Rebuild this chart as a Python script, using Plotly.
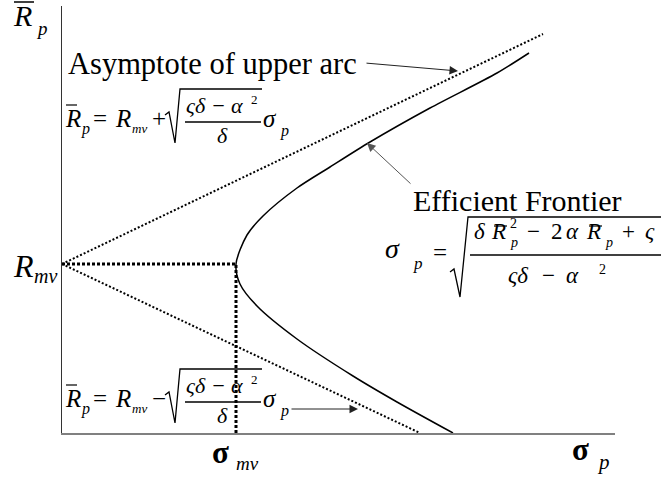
import plotly.graph_objects as go

# ---- diagram values (sigma_p on x, mean return R_p on y) ----
R_MV = 169
SIGMA_MV = 174

frontier_sigma = [391, 335, 291, 235, 195, 178, 174, 185, 201, 235, 268, 308, 368, 435, 467]
frontier_R = [0, 31, 57, 94, 127, 149, 169, 198, 217, 245, 266, 291, 325, 360, 380]

upper_asym_sigma = [0, 481]
upper_asym_R = [R_MV, 399]

lower_asym_sigma = [0, 358]
lower_asym_R = [R_MV, 0]

X_MAX = 553
Y_MAX = 427

# ---- canvas geometry ----
W, H = 661, 478
ML, MR, MT, MB = 62, 46, 6, 45
PW = W - ML - MR
PH = H - MT - MB

FONT = "'Liberation Serif', 'Times New Roman', Times, serif"


def px_x(x):
    return (x - ML) / PW


def px_y(y):
    return (H - MB - y) / PH


annotations = []
shapes = []


def label(text, x, base, size, italic=True, bold=False):
    s = text
    if italic:
        s = "<i>" + s + "</i>"
    if bold:
        s = "<b>" + s + "</b>"
    centre = base - 0.3375 * size
    annotations.append(dict(
        text=s, x=px_x(x), y=px_y(centre), xref="paper", yref="paper",
        xanchor="left", yanchor="middle", showarrow=False, borderpad=0,
        font=dict(family=FONT, size=size, color="black"),
    ))


def seg(x0, y0, x1, y1, width=1.3, color="black"):
    shapes.append(dict(type="line", xref="paper", yref="paper",
                       x0=px_x(x0), y0=px_y(y0), x1=px_x(x1), y1=px_y(y1),
                       line=dict(color=color, width=width)))


def radical(pts, width=1.3):
    path = "M " + " L ".join(f"{px_x(a):.5f},{px_y(b):.5f}" for a, b in pts)
    shapes.append(dict(type="path", xref="paper", yref="paper", path=path,
                       line=dict(color="black", width=width)))


def arrow(tail, tip, color="#222"):
    annotations.append(dict(
        text="", x=px_x(tip[0]), y=px_y(tip[1]), xref="paper", yref="paper",
        ax=tail[0] - tip[0], ay=tail[1] - tip[1], showarrow=True,
        arrowhead=2, arrowsize=1.7, arrowwidth=1, arrowcolor=color, standoff=0,
    ))


# axis titles
label("R", 12, 26, 30)
label("p", 35, 35, 19)
seg(14, 2, 34, 2, 1.5)

label("R", 12, 277, 32)
label("mv", 33, 283, 20)

label("σ", 211, 463, 31, italic=False, bold=True)
label("mv", 235, 470, 19)
label("σ", 571, 460, 31, italic=False, bold=True)
label("p", 596, 469, 21)

# asymptote caption
label("Asymptote of upper arc", 67, 74, 30.5, italic=False)
arrow((365, 63), (458, 71))


def asym_equation(dy, sign):
    label("R", 64, 127 + dy, 25)
    seg(66, 105 + dy, 77, 105 + dy, 1.2)
    label("p", 80, 134 + dy, 16)
    label("=", 92, 127 + dy, 25, italic=False)
    label("R", 114, 127 + dy, 25)
    label("mv", 131, 133 + dy, 13)
    label(sign, 151, 127 + dy, 25, italic=False)
    radical([(165, 115 + dy), (169, 112 + dy), (175, 143 + dy), (180, 89 + dy), (262, 89 + dy)])
    label("ςδ − α", 185, 113 + dy, 22)
    label("2", 250, 104 + dy, 13, italic=False)
    seg(185, 122 + dy, 261, 122 + dy, 1.5)
    label("δ", 216, 143 + dy, 22)
    label("σ", 262, 127 + dy, 25)
    label("p", 279, 136 + dy, 16)


asym_equation(0, "+")
asym_equation(280, "−")
arrow((290, 409), (358, 409))

# efficient frontier caption and formula
label("Efficient Frontier", 412, 211, 30, italic=False)
arrow((412, 185), (367, 143), color="#555")

label("σ", 384, 258, 28)
label("p", 412, 269, 17)
label("=", 432, 261, 25, italic=False)
radical([(450, 272), (454, 269), (460, 297), (468, 217), (661, 217)])
label("δ", 473, 239, 23)
label("R", 490, 239, 23)
seg(494, 226, 507, 226, 1.2)
label("2", 509, 228, 14, italic=False)
label("p", 509, 247, 14)
label("−", 526, 239, 23, italic=False)
label("2", 550, 239, 23, italic=False)
label("α", 565, 239, 23)
label("R", 585, 239, 23)
seg(589, 226, 602, 226, 1.2)
label("p", 604, 247, 14)
label("+", 621, 239, 23, italic=False)
label("ς", 644, 239, 23)
seg(470, 255, 661, 255, 1.5)
label("ςδ", 507, 283, 23)
label("−", 541, 283, 23, italic=False)
label("α", 565, 283, 23)
label("2", 598, 274, 14, italic=False)

# ---- traces ----
fig = go.Figure()
fig.add_trace(go.Scatter(x=upper_asym_sigma, y=upper_asym_R, mode="lines",
                         line=dict(color="black", width=2, dash="2px,2px")))
fig.add_trace(go.Scatter(x=lower_asym_sigma, y=lower_asym_R, mode="lines",
                         line=dict(color="black", width=2, dash="2px,2px")))
fig.add_trace(go.Scatter(x=[0, SIGMA_MV, SIGMA_MV], y=[R_MV, R_MV, 0], mode="lines",
                         line=dict(color="black", width=3, dash="3px,2px")))
fig.add_trace(go.Scatter(x=frontier_sigma, y=frontier_R, mode="lines",
                         line=dict(color="black", width=1.5, shape="spline", smoothing=0.8)))

fig.update_layout(
    width=W, height=H,
    margin=dict(l=ML, r=MR, t=MT, b=MB),
    paper_bgcolor="white", plot_bgcolor="white",
    showlegend=False,
    font=dict(family=FONT),
    xaxis=dict(range=[0, X_MAX], showgrid=False, zeroline=False, showticklabels=False,
               ticks="", showline=True, linecolor="#808080", linewidth=2),
    yaxis=dict(range=[0, Y_MAX], showgrid=False, zeroline=False, showticklabels=False,
               ticks="", showline=True, linecolor="#333333", linewidth=1),
    annotations=annotations,
    shapes=shapes,
)

fig.write_html("out.html")
